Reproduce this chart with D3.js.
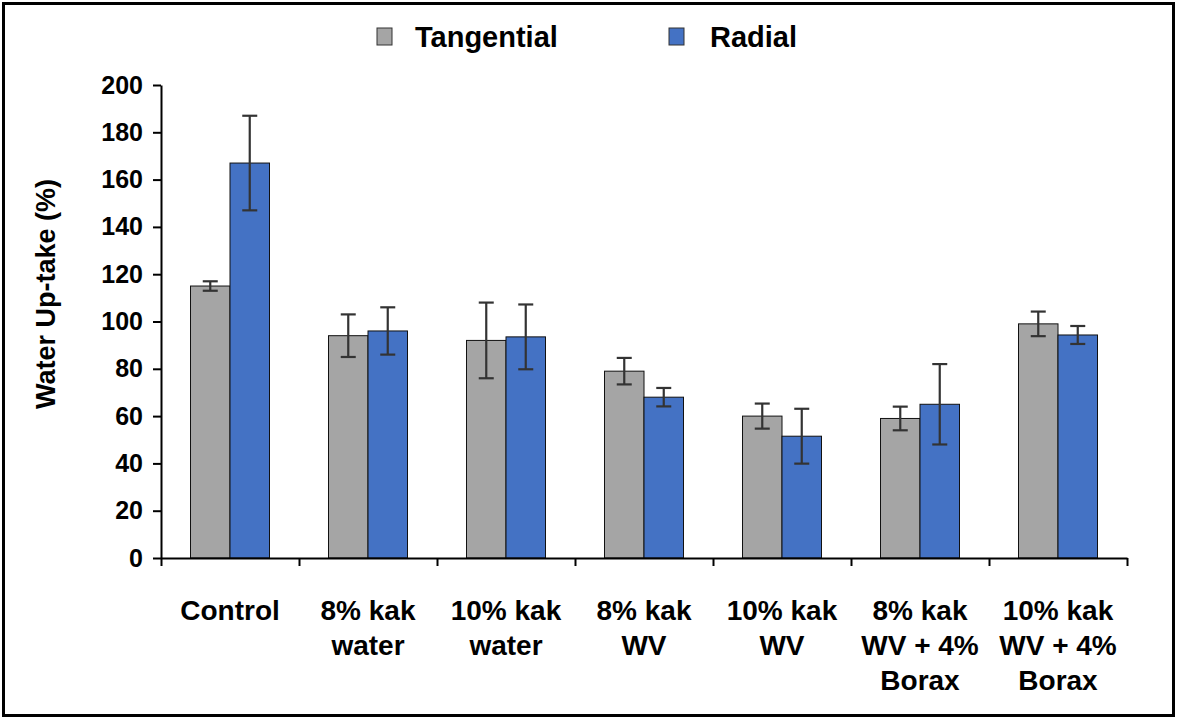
<!DOCTYPE html>
<html>
<head>
<meta charset="utf-8">
<script src="https://cdn.jsdelivr.net/npm/d3@7"></script>
<style>
  html, body { margin: 0; padding: 0; background: #fff; }
  svg { display: block; font-family: Arial, "Liberation Sans", sans-serif; }
</style>
</head>
<body>
<svg id="chart" width="1178" height="723"></svg>
<script>
const categories = [
  ["Control"],
  ["8% kak", "water"],
  ["10% kak", "water"],
  ["8% kak", "WV"],
  ["10% kak", "WV"],
  ["8% kak", "WV + 4%", "Borax"],
  ["10% kak", "WV + 4%", "Borax"]
];
const seriesNames = ["Tangential", "Radial"];
const tangential = [115, 94, 92, 79, 60, 59, 99];
const tangentialErr = [2, 9, 16, 5.6, 5.3, 5, 5.2];
const radial = [167, 96, 93.5, 68, 51.5, 65, 94.3];
const radialErr = [20, 10, 13.7, 3.9, 11.6, 17, 3.8];
const yTicks = [0, 20, 40, 60, 80, 100, 120, 140, 160, 180, 200];
const colors = ["#A5A5A5", "#4472C4"];

const svg = d3.select("#chart");

// frame
svg.append("rect").attr("x", 3.5).attr("y", 3.5).attr("width", 1170).attr("height", 712)
  .attr("fill", "none").attr("stroke", "#000").attr("stroke-width", 3);

const plotLeft = 161, plotRight = 1127, plotTop = 85, plotBottom = 558;
const y = d3.scaleLinear().domain([0, 200]).range([plotBottom, plotTop]);
const idx = categories.map((d, i) => i);
const x0 = d3.scaleBand().domain(idx).range([plotLeft, plotRight]).padding(0);
const groupW = 79;
const x1 = d3.scaleBand().domain([0, 1])
  .range([(x0.bandwidth() - groupW) / 2, (x0.bandwidth() + groupW) / 2]).padding(0);
const xb = d3.scaleLinear().domain([0, categories.length]).range([plotLeft, plotRight]);

const data = idx.map(i => [
  { s: 0, v: tangential[i], e: tangentialErr[i] },
  { s: 1, v: radial[i], e: radialErr[i] }
]);

const groups = svg.append("g").selectAll("g").data(data).join("g")
  .attr("transform", (d, i) => `translate(${x0(i)},0)`);

groups.selectAll("rect").data(d => d).join("rect")
  .attr("x", d => x1(d.s))
  .attr("y", d => y(d.v))
  .attr("width", x1.bandwidth())
  .attr("height", d => y(0) - y(d.v))
  .attr("fill", d => colors[d.s])
  .attr("stroke", "#111").attr("stroke-width", 1);

// error bars
const eb = groups.selectAll("g.err").data(d => d).join("g").attr("class", "err")
  .attr("stroke", "#333").attr("stroke-width", 2.2);
eb.append("line")
  .attr("x1", d => x1(d.s) + x1.bandwidth() / 2).attr("x2", d => x1(d.s) + x1.bandwidth() / 2)
  .attr("y1", d => y(d.v + d.e)).attr("y2", d => y(d.v - d.e));
eb.append("line")
  .attr("x1", d => x1(d.s) + x1.bandwidth() / 2 - 7.5).attr("x2", d => x1(d.s) + x1.bandwidth() / 2 + 7.5)
  .attr("y1", d => y(d.v + d.e)).attr("y2", d => y(d.v + d.e));
eb.append("line")
  .attr("x1", d => x1(d.s) + x1.bandwidth() / 2 - 7.5).attr("x2", d => x1(d.s) + x1.bandwidth() / 2 + 7.5)
  .attr("y1", d => y(d.v - d.e)).attr("y2", d => y(d.v - d.e));

// y axis
const yAxis = svg.append("g").attr("transform", `translate(${plotLeft},0)`)
  .call(d3.axisLeft(y).tickValues(yTicks).tickSize(8).tickSizeOuter(0).tickPadding(10));
yAxis.select(".domain").attr("stroke", "#000").attr("stroke-width", 2);
yAxis.selectAll(".tick line").attr("stroke", "#000").attr("stroke-width", 2);
yAxis.selectAll(".tick text").attr("font-size", 25).attr("font-weight", "bold")
  .attr("fill", "#000").attr("font-family", "Arial, 'Liberation Sans', sans-serif");

// x axis
const xAxis = svg.append("g").attr("transform", `translate(0,${plotBottom})`)
  .call(d3.axisBottom(xb).ticks(categories.length).tickFormat("").tickSize(8).tickSizeOuter(0));
xAxis.select(".domain").attr("stroke", "#000").attr("stroke-width", 2);
xAxis.selectAll(".tick line").attr("stroke", "#000").attr("stroke-width", 2);

// x labels
const lab = svg.append("g").selectAll("text").data(categories).join("text")
  .attr("text-anchor", "middle").attr("font-size", 28).attr("font-weight", "bold").attr("fill", "#000");
lab.each(function(d, i) {
  const t = d3.select(this);
  d.forEach((line, j) => {
    t.append("tspan").attr("x", x0(i) + x0.bandwidth() / 2).attr("y", 620 + j * 35).text(line);
  });
});

// y title
svg.append("text").attr("transform", "translate(55,294) rotate(-90)")
  .attr("text-anchor", "middle").attr("font-size", 27).attr("font-weight", "bold")
  .text("Water Up-take (%)");

// legend
const legX = [377, 669], legTextX = [415, 710];
const leg = svg.append("g").selectAll("g").data(seriesNames).join("g");
leg.append("rect").attr("x", (d, i) => legX[i]).attr("y", 28).attr("width", 15).attr("height", 17)
  .attr("fill", (d, i) => colors[i]).attr("stroke", "#333").attr("stroke-width", 1);
leg.append("text").attr("x", (d, i) => legTextX[i]).attr("y", 47)
  .attr("font-size", 29).attr("font-weight", "bold").attr("fill", "#000").text(d => d);
</script>
</body>
</html>
